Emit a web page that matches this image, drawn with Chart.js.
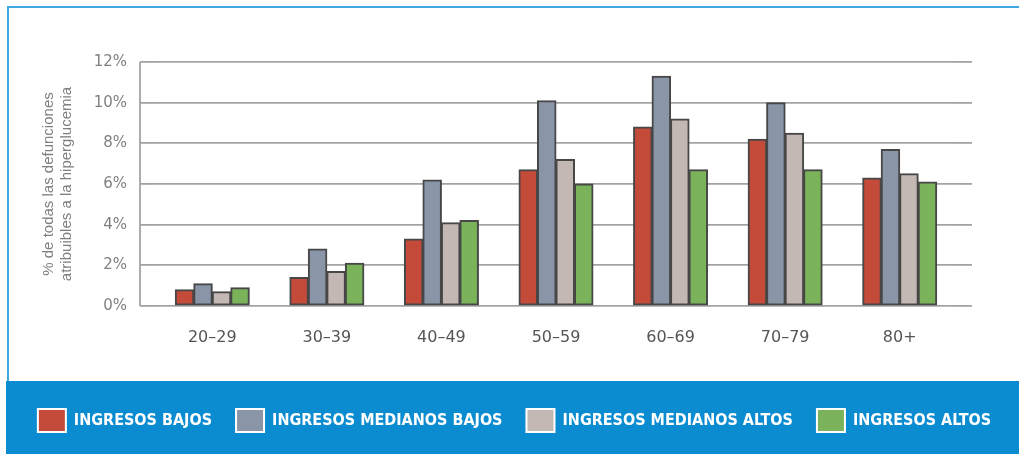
<!DOCTYPE html>
<html lang="es">
<head>
<meta charset="utf-8">
<title>Defunciones atribuibles a la hiperglucemia</title>
<script src="https://cdn.jsdelivr.net/npm/chart.js@4.4.1/dist/chart.umd.min.js"></script>
<style>
    html, body { margin: 0; padding: 0; background: #ffffff; }
    #wrap { width: 1019px; height: 454px; }
</style>
</head>
<body>
<div id="wrap"><canvas id="chart" width="1019" height="454"></canvas></div>
<script>
// Age groups and share of deaths by income level
const ageGroups = ['20–29', '30–39', '40–49', '50–59', '60–69', '70–79', '80+'];
const ingresosBajos = [0.8, 1.4, 3.3, 6.7, 8.8, 8.2, 6.3];
const ingresosMedianosBajos = [1.1, 2.8, 6.2, 10.1, 11.3, 10.0, 7.7];
const ingresosMedianosAltos = [0.7, 1.7, 4.1, 7.2, 9.2, 8.5, 6.5];
const ingresosAltos = [0.9, 2.1, 4.2, 6.0, 6.7, 6.7, 6.1];
const seriesNames = ['INGRESOS BAJOS', 'INGRESOS MEDIANOS BAJOS', 'INGRESOS MEDIANOS ALTOS', 'INGRESOS ALTOS'];
const seriesColors = ['#c44a3a', '#8a95a8', '#c4b8b5', '#7ab35a'];
const yTicks = [0, 2, 4, 6, 8, 10, 12];

const GRID = '#a3a3a3';

// Frame, legend band and the left axis line
const framePlugin = {
    id: 'frame',
    beforeDraw(chart) {
        const ctx = chart.ctx;
        ctx.save();
        ctx.fillStyle = '#0b8bd0';
        ctx.fillRect(6, 381, chart.width - 6, chart.height - 381);
        ctx.strokeStyle = '#3ea6e0';
        ctx.lineWidth = 2;
        ctx.beginPath();
        ctx.moveTo(chart.width, 7);
        ctx.lineTo(8, 7);
        ctx.lineTo(8, 381);
        ctx.stroke();
        ctx.restore();
    },
    afterDatasetsDraw(chart) {
        const y = chart.scales.y;
        const ctx = chart.ctx;
        ctx.save();
        ctx.strokeStyle = GRID;
        ctx.lineWidth = 1.8;
        ctx.beginPath();
        ctx.moveTo(chart.chartArea.left - 15, y.getPixelForValue(12));
        ctx.lineTo(chart.chartArea.left - 15, y.getPixelForValue(0));
        ctx.stroke();
        ctx.restore();
    }
};

const seriesData = [ingresosBajos, ingresosMedianosBajos, ingresosMedianosAltos, ingresosAltos];

new Chart(document.getElementById('chart'), {
    type: 'bar',
    data: {
        labels: ageGroups,
        datasets: seriesData.map((values, i) => ({
            label: seriesNames[i],
            data: values,
            backgroundColor: seriesColors[i],
            borderColor: '#474747',
            borderWidth: 2,
            borderSkipped: false,
            inflateAmount: 0.5,
            categoryPercentage: 0.646,
            barPercentage: 1.0
        }))
    },
    options: {
        responsive: false,
        animation: false,
        devicePixelRatio: 1,
        layout: { padding: { left: 10, right: 0, top: 62, bottom: 12 } },
        plugins: {
            tooltip: { enabled: false },
            legend: {
                position: 'bottom',
                labels: {
                    boxWidth: 28,
                    boxHeight: 23,
                    padding: 24,
                    color: '#ffffff',
                    font: { family: "'DejaVu Sans Condensed', sans-serif", size: 16, weight: 'bold' },
                    generateLabels(chart) {
                        return Chart.defaults.plugins.legend.labels.generateLabels(chart).map(item => {
                            item.strokeStyle = '#ffffff';
                            item.lineWidth = 2;
                            return item;
                        });
                    }
                }
            }
        },
        scales: {
            x: {
                grid: { display: false, drawTicks: false },
                border: { display: false },
                ticks: {
                    color: '#555555',
                    padding: 22,
                    font: { family: "'DejaVu Sans', sans-serif", size: 16 }
                },
                afterFit(scale) { scale.height = 79; }
            },
            y: {
                min: 0,
                max: 12,
                afterBuildTicks(scale) { scale.ticks = yTicks.map(v => ({ value: v })); },
                grid: { color: GRID, lineWidth: 1.8, tickLength: 15, tickColor: GRID },
                border: { display: false },
                ticks: {
                    color: '#808080',
                    padding: 13,
                    font: { family: "'DejaVu Sans', sans-serif", size: 15 },
                    callback: v => v + '%'
                },
                title: {
                    display: true,
                    text: ['% de todas las defunciones', 'atribuibles a la hiperglucemia'],
                    color: '#7f7f7f',
                    font: { family: "'Liberation Sans', sans-serif", size: 15 },
                    padding: { top: 30, bottom: 0 }
                },
                afterFit(scale) { scale.width = 145; }
            },
            yRight: {
                position: 'right',
                min: 0,
                max: 12,
                afterBuildTicks(scale) { scale.ticks = yTicks.map(v => ({ value: v })); },
                grid: { drawOnChartArea: false, color: GRID, lineWidth: 1.8, tickLength: 15, tickColor: GRID },
                border: { display: false },
                ticks: { display: false },
                afterFit(scale) { scale.width = 62; }
            }
        }
    },
    plugins: [framePlugin]
});
</script>
</body>
</html>
